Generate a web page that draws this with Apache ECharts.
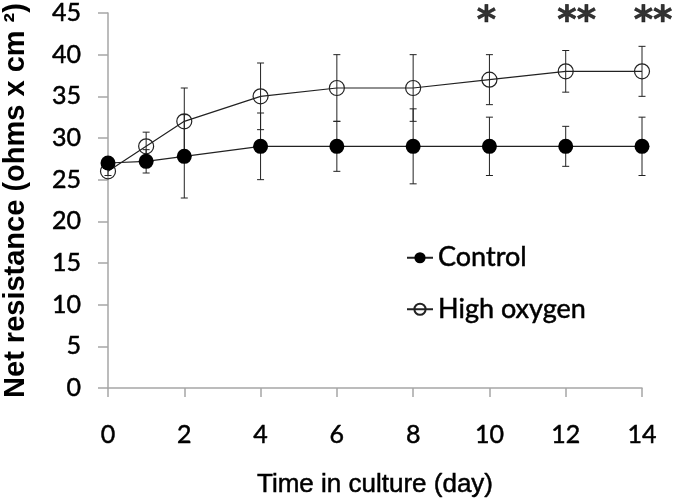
<!DOCTYPE html>
<html>
<head>
<meta charset="utf-8">
<script src="https://cdn.jsdelivr.net/npm/echarts@6/dist/echarts.min.js"></script>
<style>html,body{margin:0;padding:0;background:#fff;}#c{width:673px;height:500px;}</style>
</head>
<body>
<div id="c"></div>
<script>
var days = [0, 1, 2, 4, 6, 8, 10, 12, 14];
var control = [27, 27.2, 27.8, 29, 29, 29, 29, 29, 29];
var controlErr = [0.5, 1.4, 5, 4, 3, 4.5, 3.5, 2.4, 3.5];
var highOxygen = [26, 29, 32, 35, 36, 36, 37, 38, 38];
var highOxygenErr = [0.5, 1.7, 4, 4, 4, 4, 3, 2.5, 3];
var sigDays = [10, 12, 14];
var sigMarks = ['*', '**', '**'];
var sigLevel = 45;

var chart = echarts.init(document.getElementById('c'), null, {renderer: 'canvas'});

function errData(vals, errs) {
  return days.map(function (d, i) { return [d, vals[i] - errs[i], vals[i] + errs[i]]; });
}
function errRender(params, api) {
  var x = api.value(0);
  var lo = api.coord([x, api.value(1)]);
  var hi = api.coord([x, api.value(2)]);
  var cap = 3.5;
  var st = {stroke: '#222', lineWidth: 1};
  return {
    type: 'group',
    children: [
      {type: 'line', shape: {x1: lo[0], y1: lo[1], x2: hi[0], y2: hi[1]}, style: st},
      {type: 'line', shape: {x1: lo[0] - cap, y1: lo[1], x2: lo[0] + cap, y2: lo[1]}, style: st},
      {type: 'line', shape: {x1: hi[0] - cap, y1: hi[1], x2: hi[0] + cap, y2: hi[1]}, style: st}
    ]
  };
}

var tickFont = 'Lato';
var heavy = {textBorderColor: '#000', textBorderWidth: 0.5};
chart.setOption({
  animation: false,
  grid: {left: 108, right: 31, top: 13, bottom: 112, containLabel: false, outerBoundsMode: 'none'},
  legend: {
    left: 406, top: 244, orient: 'vertical', itemGap: 24, padding: 0,
    itemWidth: 26, itemHeight: 14,
    textStyle: Object.assign({fontFamily: tickFont, fontSize: 27, color: '#000'}, heavy),
    data: ['Control', 'High oxygen']
  },
  xAxis: {
    type: 'value', min: 0, max: 14, interval: 2,
    name: 'Time in culture (day)', nameLocation: 'middle', nameGap: 84,
    nameTextStyle: Object.assign({fontFamily: 'Liberation Sans', fontSize: 26, color: '#000'}, heavy),
    axisLine: {lineStyle: {color: '#a6a6a6', width: 1.5}},
    axisTick: {show: true, length: 9, lineStyle: {color: '#a6a6a6', width: 1.5}},
    axisLabel: Object.assign({margin: 34, fontFamily: tickFont, fontSize: 25, color: '#000'}, heavy),
    splitLine: {show: false}
  },
  yAxis: {
    type: 'value', min: 0, max: 45, interval: 5,
    name: 'Net resistance (ohms x cm \u00b2)', nameLocation: 'middle', nameGap: 78, nameRotate: 90,
    nameTextStyle: {fontFamily: 'Liberation Sans', fontWeight: 'bold', fontSize: 29, color: '#000'},
    axisLine: {show: true, lineStyle: {color: '#a6a6a6', width: 1.5}},
    axisTick: {show: true, length: 10, lineStyle: {color: '#a6a6a6', width: 1.5}},
    axisLabel: Object.assign({margin: 27, fontFamily: tickFont, fontSize: 25, color: '#000'}, heavy),
    splitLine: {show: false}
  },
  series: [
    {
      type: 'custom', name: 'ctlErr', renderItem: errRender, data: errData(control, controlErr),
      z: 1, silent: true, encode: {x: 0, y: [1, 2]}
    },
    {
      type: 'custom', name: 'hoErr', renderItem: errRender, data: errData(highOxygen, highOxygenErr),
      z: 1, silent: true, encode: {x: 0, y: [1, 2]}
    },
    {
      name: 'High oxygen', type: 'line', z: 3,
      data: days.map(function (d, i) { return [d, highOxygen[i]]; }),
      symbol: 'circle', symbolSize: 15,
      lineStyle: {color: '#222', width: 1.2},
      itemStyle: {color: 'rgba(255,255,255,0)', borderColor: '#222', borderWidth: 1.2}
    },
    {
      name: 'Control', type: 'line', z: 4,
      data: days.map(function (d, i) { return [d, control[i]]; }),
      symbol: 'circle', symbolSize: 15,
      lineStyle: {color: '#222', width: 1.2},
      itemStyle: {color: '#000', borderColor: '#000', borderWidth: 0}
    },
    {
      name: 'sig', type: 'scatter', z: 5, symbolSize: 0, silent: true,
      data: sigDays.map(function (d, i) { return {value: [d, sigLevel], label: {formatter: sigMarks[i], offset: [sigMarks[i].length > 1 ? 11 : -3, 9]}}; }),
      label: {show: true, position: 'inside', fontFamily: 'DejaVu Sans', fontWeight: 'bold', fontSize: 37, color: '#000', textBorderColor: '#000', textBorderWidth: 0.6}
    }
  ]
});
</script>
</body>
</html>
